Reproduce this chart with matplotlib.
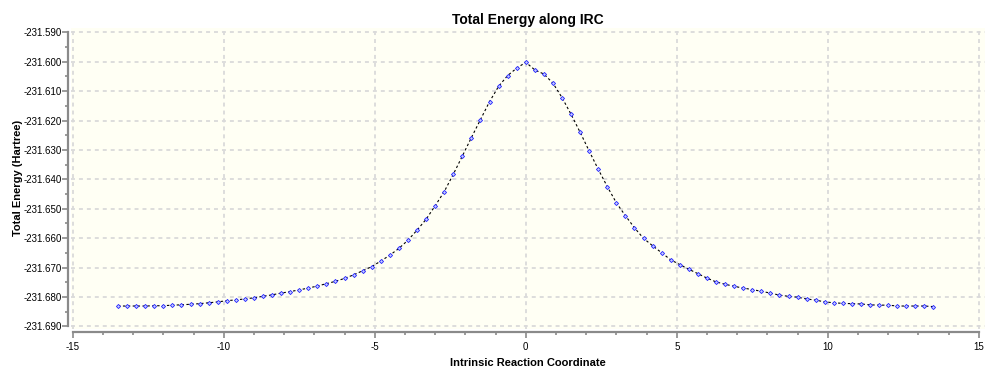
import matplotlib
matplotlib.use("Agg")
import matplotlib.pyplot as plt
from matplotlib.ticker import FormatStrFormatter, FixedLocator

plt.rcParams['font.family'] = ['Liberation Sans', 'DejaVu Sans']

irc_coord = [-13.5, -13.2, -12.9, -12.6, -12.3, -12.0, -11.7, -11.4, -11.1, -10.8,
             -10.5, -10.2, -9.9, -9.6, -9.3, -9.0, -8.7, -8.4, -8.1, -7.8,
             -7.5, -7.2, -6.9, -6.6, -6.3, -6.0, -5.7, -5.4, -5.1, -4.8,
             -4.5, -4.2, -3.9, -3.6, -3.3, -3.0, -2.7, -2.4, -2.1, -1.8,
             -1.5, -1.2, -0.9, -0.6, -0.3, 0.0,
             0.3, 0.6, 0.9, 1.2, 1.5, 1.8, 2.1, 2.4, 2.7, 3.0,
             3.3, 3.6, 3.9, 4.2, 4.5, 4.8, 5.1, 5.4, 5.7, 6.0,
             6.3, 6.6, 6.9, 7.2, 7.5, 7.8, 8.1, 8.4, 8.7, 9.0,
             9.3, 9.6, 9.9, 10.2, 10.5, 10.8, 11.1, 11.4, 11.7, 12.0,
             12.3, 12.6, 12.9, 13.2, 13.5]

energy = [-231.6831, -231.6831, -231.6831, -231.6831, -231.6830, -231.6830, -231.6828, -231.6827, -231.6825, -231.6823,
          -231.6820, -231.6817, -231.6813, -231.6810, -231.6807, -231.6803, -231.6798, -231.6793, -231.6787, -231.6782,
          -231.6776, -231.6770, -231.6763, -231.6755, -231.6747, -231.6737, -231.6725, -231.6711, -231.6697, -231.6678,
          -231.6658, -231.6635, -231.6607, -231.6573, -231.6536, -231.6490, -231.6442, -231.6383, -231.6321, -231.6258,
          -231.6197, -231.6136, -231.6084, -231.6047, -231.6022, -231.6002,
          -231.6028, -231.6042, -231.6073, -231.6122, -231.6179, -231.6240, -231.6304, -231.6366, -231.6425, -231.6480,
          -231.6524, -231.6565, -231.6601, -231.6626, -231.6650, -231.6674, -231.6690, -231.6706, -231.6721, -231.6736,
          -231.6749, -231.6757, -231.6764, -231.6770, -231.6775, -231.6781, -231.6787, -231.6794, -231.6798, -231.6801,
          -231.6807, -231.6811, -231.6817, -231.6820, -231.6822, -231.6823, -231.6824, -231.6827, -231.6828, -231.6828,
          -231.6831, -231.6831, -231.6831, -231.6831, -231.6833]

x_ticks = [-15, -10, -5, 0, 5, 10, 15]
y_ticks = [-231.690, -231.680, -231.670, -231.660, -231.650, -231.640,
           -231.630, -231.620, -231.610, -231.600, -231.590]

title = "Total Energy along IRC"
xlabel = "Intrinsic Reaction Coordinate"
ylabel = "Total Energy (Hartree)"

fig = plt.figure(figsize=(9.88, 3.68), dpi=100)
ax = fig.add_axes([0.0719, 0.1073, 0.9246, 0.8166])
ax.set_facecolor('#fffff4')

ax.plot(irc_coord, energy, color='black', linestyle=(0, (2.2, 2.2)), linewidth=0.8,
        marker='D', markersize=2.1, markerfacecolor='#c8ceff', markeredgecolor='#2222ff',
        markeredgewidth=0.6, zorder=3)

ax.set_xlim(-15.056, 15.19)
ax.set_ylim(-231.69075, -231.58854)

ax.xaxis.set_major_locator(FixedLocator(x_ticks))
ax.yaxis.set_major_locator(FixedLocator(y_ticks))
ax.xaxis.set_minor_locator(FixedLocator([v for v in range(-15, 16) if v % 5 != 0]))
ax.yaxis.set_minor_locator(FixedLocator([y_ticks[i] + 0.005 for i in range(len(y_ticks) - 1)]))
ax.yaxis.set_major_formatter(FormatStrFormatter('%.3f'))
ax.xaxis.set_major_formatter(FormatStrFormatter('%d'))

ax.grid(True, which='major', color='#dadada', linestyle=(0, (2.2, 2.2)), linewidth=1.3, zorder=0)

for s in ['top', 'right']:
    ax.spines[s].set_visible(False)
ax.spines['left'].set_position(('outward', 2.0))
ax.spines['bottom'].set_position(('outward', 2.8))
ax.spines['left'].set_bounds(-231.690, -231.590)
ax.spines['bottom'].set_bounds(-15, 15)
for s in ['left', 'bottom']:
    ax.spines[s].set_color('#8a8a8a')
    ax.spines[s].set_linewidth(1.6)

ax.tick_params(which='major', length=4.2, width=1.2, color='#8a8a8a', labelsize=7, labelcolor='black')
ax.tick_params(which='minor', length=2.4, width=1.2, color='#8a8a8a')
ax.tick_params(axis='y', which='major', pad=0.5)
ax.tick_params(axis='x', which='major', pad=3)

ax.set_title(title, fontsize=10, fontweight='bold', pad=3)
ax.set_xlabel(xlabel, fontsize=8, fontweight='bold', labelpad=4)
ax.set_ylabel(ylabel, fontsize=8, fontweight='bold', labelpad=0.5)

fig.savefig('out.png', dpi=100)
